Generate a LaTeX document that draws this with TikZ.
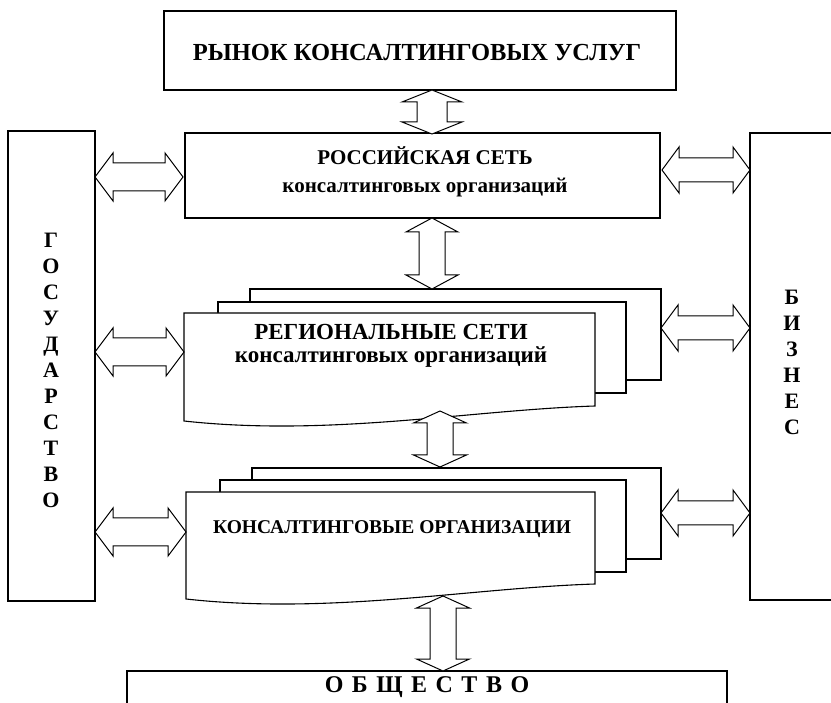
\documentclass[tikz,border=0pt]{standalone}
\usepackage{fontspec}
\setmainfont{Liberation Serif}
\usetikzlibrary{calc}
\begin{document}
\begin{tikzpicture}[x=1pt,y=-1pt,line width=1.1pt,
  box/.style={draw,fill=white},
  bfont/.style={font=\bfseries\fontsize{#1}{#1}\selectfont,inner sep=0pt},
  vfont/.style={font=\bfseries\fontsize{22}{26}\selectfont,align=center,inner sep=0pt},
  blockarr/.style n args={3}{draw,fill=white,line width=1pt,to path={
    -- ($($(\tikztostart)!#3!(\tikztotarget)$)!#2!90:(\tikztotarget)$)
    -- ($($(\tikztostart)!#3!(\tikztotarget)$)!#1!90:(\tikztotarget)$)
    -- ($($(\tikztotarget)!#3!(\tikztostart)$)!#1!-90:(\tikztostart)$)
    -- ($($(\tikztotarget)!#3!(\tikztostart)$)!#2!-90:(\tikztostart)$)
    -- (\tikztotarget)
    -- ($($(\tikztotarget)!#3!(\tikztostart)$)!#2!90:(\tikztostart)$)
    -- ($($(\tikztotarget)!#3!(\tikztostart)$)!#1!90:(\tikztostart)$)
    -- ($($(\tikztostart)!#3!(\tikztotarget)$)!#1!-90:(\tikztotarget)$)
    -- ($($(\tikztostart)!#3!(\tikztotarget)$)!#2!-90:(\tikztotarget)$)
    -- cycle}},
  harr/.style={blockarr={12pt}{23pt}{17pt}},
  larr/.style={blockarr={14pt}{24pt}{18pt}}
]
\useasboundingbox (0,0) rectangle (831,703);

% top box
\node[box,minimum width=512pt,minimum height=79pt,inner sep=0pt] (market) at (420,50.5) {};
\node[bfont=24.5,anchor=base] (marketT) at (417,61) {РЫНОК КОНСАЛТИНГОВЫХ УСЛУГ};

% russian network
\node[box,minimum width=475pt,minimum height=85pt,inner sep=0pt] (rus) at (422.5,175.5) {};
\node[bfont=21,anchor=base] (rusT1) at (425,165) {РОССИЙСКАЯ СЕТЬ};
\node[bfont=21,anchor=base] (rusT2) at (425,193) {консалтинговых организаций};

% regional networks (stack)
\draw[box] (250,289) rectangle (661,380);
\draw[box] (218,302) rectangle (626,393);
\draw[box] (184,313) -- (595,313) -- (595,406)
   .. controls (470,410) and (330,437) .. (184,421) -- cycle;
\node[bfont=23,anchor=base] (regT1) at (391,340) {РЕГИОНАЛЬНЫЕ СЕТИ};
\node[bfont=23,anchor=base] (regT2) at (391,363) {консалтинговых организаций};

% consulting organisations (stack)
\draw[box] (252,468) rectangle (661,559);
\draw[box] (220,480) rectangle (626,572);
\draw[box] (186,492) -- (595,492) -- (595,584)
   .. controls (470,588) and (330,615) .. (186,599) -- cycle;
\node[bfont=19.5,anchor=base] (orgT) at (392,533) {КОНСАЛТИНГОВЫЕ ОРГАНИЗАЦИИ};

% side boxes
\node[box,minimum width=87pt,minimum height=470pt,inner sep=0pt] (gos) at (51.5,366) {};
\node[vfont] (gosT) at (51,370) {Г\\О\\С\\У\\Д\\А\\Р\\С\\Т\\В\\О};
\draw[box] (850,133) -- (750,133) -- (750,600) -- (850,600);
\node[vfont] (bizT) at (792,362) {Б\\И\\З\\Н\\Е\\С};

% society
\draw[box] (127,720) -- (127,671) -- (727,671) -- (727,720);
\node[bfont=24,anchor=base] (socT) at (427,692) {\spaceskip=8.5pt О Б Щ Е С Т В О};

% arrow end points
\coordinate (a1s) at (432,90);  \coordinate (a1e) at (432,134);
\coordinate (a2s) at (432,218); \coordinate (a2e) at (432,289);
\coordinate (a3s) at (440,411); \coordinate (a3e) at (440,467);
\coordinate (a4s) at (443,596); \coordinate (a4e) at (443,671);
\coordinate (l1s) at (95,177);  \coordinate (l1e) at (183,177);
\coordinate (l2s) at (95,352);  \coordinate (l2e) at (184,352);
\coordinate (l3s) at (95,532);  \coordinate (l3e) at (186,532);
\coordinate (r1s) at (662,170); \coordinate (r1e) at (750,170);
\coordinate (r2s) at (661,328); \coordinate (r2e) at (750,328);
\coordinate (r3s) at (661,513); \coordinate (r3e) at (750,513);

\draw[blockarr={15pt}{30pt}{12pt}] (a1s) to (a1e);
\draw[blockarr={13pt}{26pt}{14pt}] (a2s) to (a2e);
\draw[blockarr={13pt}{26.5pt}{12pt}] (a3s) to (a3e);
\draw[blockarr={13pt}{26.5pt}{12pt}] (a4s) to (a4e);
\draw[larr] (l1s) to (l1e);
\draw[larr] (l2s) to (l2e);
\draw[larr] (l3s) to (l3e);
\draw[harr] (r1s) to (r1e);
\draw[harr] (r2s) to (r2e);
\draw[harr] (r3s) to (r3e);
\end{tikzpicture}
\end{document}
